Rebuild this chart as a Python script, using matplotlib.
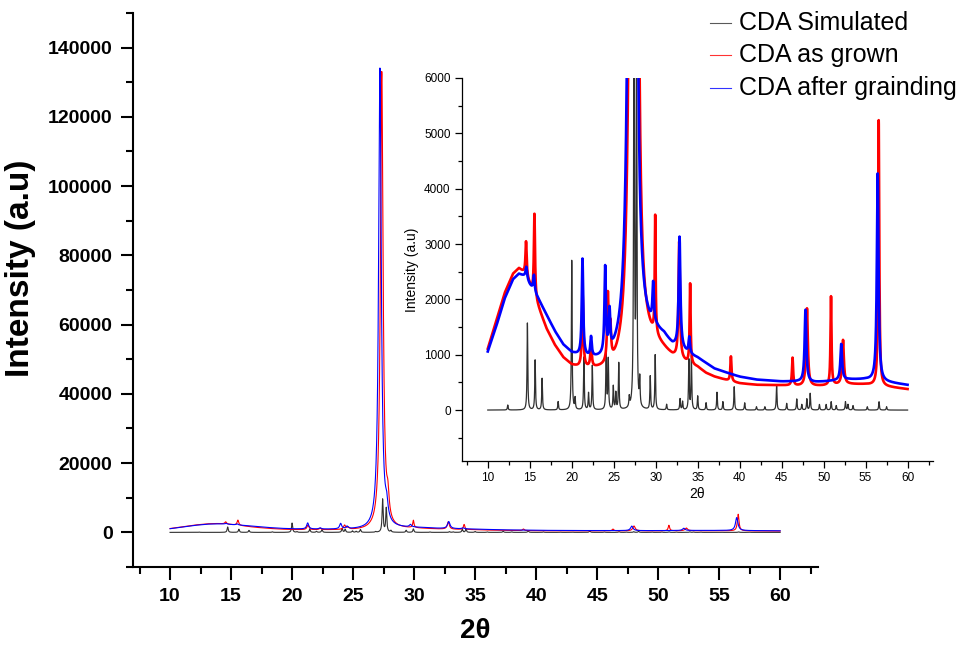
import numpy as np
import matplotlib
matplotlib.use("Agg")
import matplotlib.pyplot as plt
from matplotlib.ticker import MultipleLocator, FixedLocator
from matplotlib.lines import Line2D

plt.rcParams['font.family'] = ['Liberation Sans', 'DejaVu Sans']

# ---------------- data ----------------
two_theta = np.arange(10.0, 60.0001, 0.01)

# CDA simulated: peak positions / heights
sim_pos = [12.38, 14.72, 15.64, 16.47, 18.38, 20.0, 20.4, 21.45, 22.0, 22.45,
           24.1, 24.35, 24.95, 25.25, 25.6, 26.85, 27.42, 27.72, 28.1, 29.35,
           29.94, 31.3, 32.9, 33.2, 33.95, 34.25, 35.0, 36.0, 37.3, 38.0,
           39.35, 40.6, 42.0, 43.0, 44.4, 45.6, 46.8, 47.4, 48.0, 48.4,
           49.5, 50.3, 50.9, 51.5, 52.6, 52.9, 53.5, 55.2, 56.6, 57.5]
sim_hgt = [90, 1570, 900, 570, 150, 2700, 200, 950, 300, 800,
           1140, 900, 420, 300, 840, 180, 9500, 7000, 480, 600,
           990, 100, 200, 150, 900, 960, 250, 130, 320, 150,
           420, 130, 60, 60, 450, 120, 200, 100, 200, 300,
           100, 100, 150, 80, 150, 100, 80, 60, 150, 60]

# CDA as grown: background and peaks
grown_bg_x = [10, 11, 12, 13, 13.7, 14.5, 15, 16, 17, 18, 19, 20, 21, 22, 23, 24, 25, 26,
              27, 28, 29, 30, 31, 32, 33, 34, 35, 36, 37, 38, 39, 40, 42, 45, 47, 49,
              50, 53, 55, 58, 60]
grown_bg_y = [1100, 1600, 2100, 2450, 2550, 2450, 2250, 1850, 1450, 1150, 920, 780, 720,
              690, 670, 650, 620, 620, 700, 850, 1000, 1080, 1000, 900, 850, 780, 740,
              640, 580, 540, 500, 470, 445, 440, 430, 430, 435, 465, 460, 410, 375]
grown_pos = [14.56, 15.56, 21.3, 22.3, 24.3, 24.6, 27.35, 27.85, 29.94, 32.8,
             34.1, 38.96, 46.3, 48.02, 50.88, 52.31, 56.56]
grown_hgt = [600, 1500, 1300, 400, 1200, 600, 132000, 6000, 2100, 2100,
             1450, 450, 500, 1400, 1600, 800, 4800]
grown_hw = [0.08, 0.08, 0.1, 0.1, 0.1, 0.1, 0.13, 0.12, 0.06, 0.1,
            0.07, 0.08, 0.08, 0.12, 0.07, 0.12, 0.08]

# CDA after grainding: background and peaks
grind_bg_x = [10, 11, 12, 13, 13.7, 14.5, 15, 16, 17, 18, 19, 20, 21, 22, 23, 24, 25, 26,
              27, 28, 29, 30, 31, 32, 33, 34, 35, 36, 37, 38, 39, 40, 42, 45, 47, 49,
              50, 53, 55, 58, 60]
grind_bg_y = [1050, 1500, 2000, 2350, 2450, 2400, 2250, 2000, 1700, 1400, 1150, 1000, 930,
              880, 850, 820, 800, 800, 900, 1050, 1200, 1280, 1250, 1100, 1050, 960, 910,
              820, 727, 680, 634, 590, 540, 510, 510, 500, 510, 550, 550, 490, 450]
grind_pos = [14.6, 15.5, 21.28, 22.3, 23.98, 24.5, 27.2, 27.75, 29.7, 32.84,
             34.0, 47.84, 52.1, 56.44]
grind_hgt = [200, 300, 1750, 350, 1550, 700, 133000, 4000, 700, 2000,
             300, 1300, 650, 3750]
grind_hw = [0.1, 0.1, 0.1, 0.1, 0.1, 0.1, 0.13, 0.12, 0.1, 0.12,
            0.1, 0.12, 0.12, 0.12]

labels = ["CDA Simulated", "CDA as grown", "CDA after grainding"]
colors = ["#303030", "#ff0000", "#0000ff"]


def pattern(x, pos, hgt, hw, bg_x=None, bg_y=None):
    y = np.zeros_like(x) if bg_x is None else np.interp(x, bg_x, bg_y)
    for p, h, w in zip(pos, hgt, hw):
        y = y + h / (1.0 + ((x - p) / w) ** 2)
    return y


sim = pattern(two_theta, sim_pos, sim_hgt, [0.05] * len(sim_pos))
grown = pattern(two_theta, grown_pos, grown_hgt, grown_hw, grown_bg_x, grown_bg_y)
grind = pattern(two_theta, grind_pos, grind_hgt, grind_hw, grind_bg_x, grind_bg_y)
series = [sim, grown, grind]

# ---------------- figure ----------------
fig = plt.figure(figsize=(9.67, 6.5), dpi=100)

ax = fig.add_axes([0.138, 0.1277, 0.7079, 0.8523])
for s, c in zip(series, colors):
    ax.plot(two_theta, s, color=c, lw=0.8)
ax.set_xlim(7, 63.1)
ax.set_ylim(-10000, 150000)
ax.spines['top'].set_visible(False)
ax.spines['right'].set_visible(False)
for sp in ['left', 'bottom']:
    ax.spines[sp].set_linewidth(1.5)
ax.xaxis.set_major_locator(FixedLocator(np.arange(10, 61, 5)))
ax.xaxis.set_minor_locator(FixedLocator(np.arange(7.5, 63, 2.5)))
ax.yaxis.set_major_locator(FixedLocator(np.arange(0, 140001, 20000)))
ax.yaxis.set_minor_locator(MultipleLocator(10000))
ax.tick_params(which='major', direction='out', length=9, width=1.5, labelsize=14, pad=6)
ax.tick_params(which='minor', direction='out', length=5, width=1.5)
for t in ax.get_xticklabels() + ax.get_yticklabels():
    t.set_fontweight('bold')
ax.set_xlabel("2θ", fontsize=20, fontweight='bold')
ax.xaxis.set_label_coords(0.5, -0.092)
ax.set_ylabel("Intensity (a.u)", fontsize=24, fontweight='bold')
ax.yaxis.set_label_coords(-0.143, 0.54)

# inset
axi = fig.add_axes([0.4775, 0.2908, 0.4871, 0.5892])
axi.patch.set_alpha(0)
for s, c in zip(series, colors):
    axi.plot(two_theta, s, color=c, lw=0.9 if c == colors[0] else 1.9)
axi.set_xlim(6.9, 63)
axi.set_ylim(-920, 6000)
axi.spines['top'].set_visible(False)
axi.spines['right'].set_visible(False)
for sp in ['left', 'bottom']:
    axi.spines[sp].set_linewidth(0.9)
axi.xaxis.set_major_locator(FixedLocator(np.arange(10, 61, 5)))
axi.xaxis.set_minor_locator(FixedLocator(np.arange(7.5, 63, 2.5)))
axi.yaxis.set_major_locator(FixedLocator(np.arange(0, 6001, 1000)))
axi.yaxis.set_minor_locator(MultipleLocator(500))
axi.tick_params(which='major', direction='out', length=5, width=0.9, labelsize=8.5, pad=3)
axi.tick_params(which='minor', direction='out', length=3, width=0.9)
axi.set_xlabel("2θ", fontsize=10, labelpad=2)
axi.set_ylabel("Intensity (a.u)", fontsize=10, labelpad=4)

# legend (figure-level)
leg_y = [1 - 22.5 / 650, 1 - 55 / 650, 1 - 88 / 650]
for lab, c, yy in zip(labels, colors, leg_y):
    fig.add_artist(Line2D([710 / 967, 731 / 967], [yy, yy], color=c, lw=0.8,
                          transform=fig.transFigure, alpha=0.8))
    fig.text(739 / 967, yy, lab, fontsize=18, va='center', ha='left')

fig.savefig("out.png", dpi=100)
